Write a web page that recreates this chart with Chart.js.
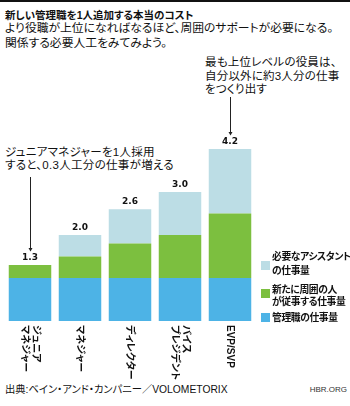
<!DOCTYPE html>
<html><head><meta charset="utf-8">
<script src="https://cdn.jsdelivr.net/npm/chart.js@4.4.1/dist/chart.umd.min.js"></script>
<style>
html,body{margin:0;padding:0;background:#fff;}
body{width:350px;height:406px;position:relative;overflow:hidden;
 font-family:"Liberation Sans","Noto Sans CJK JP",sans-serif;color:#111;font-feature-settings:"palt";}
.abs{position:absolute;white-space:pre;}
#topbar{position:absolute;left:0;top:0;width:350px;height:2px;background:#111;}
#title{left:5px;top:8px;font-size:10.5px;font-weight:bold;line-height:14px;}
#sub{left:5px;top:21px;font-size:11.8px;line-height:14.5px;}
#annJ{left:5px;top:146px;font-size:11.5px;line-height:13.3px;letter-spacing:0.3px;}
#annE{left:205px;top:56px;font-size:11.5px;line-height:13.6px;letter-spacing:0.2px;}
#src{left:5px;top:383px;font-size:10.3px;line-height:14px;}
#hbr{right:3px;top:385px;font-size:8px;line-height:10px;color:#333;}
.lg{position:absolute;left:272px;font-size:9.8px;font-weight:bold;white-space:pre;letter-spacing:-0.4px;}
.sw{position:absolute;left:261px;width:9px;height:9px;}
canvas{position:absolute;left:0;top:0;}
</style></head>
<body>
<div id="topbar"></div>
<div id="title" class="abs">新しい管理職を1人追加する本当のコスト</div>
<div id="sub" class="abs">より役職が上位になればなるほど、周囲のサポートが必要になる。
関係する必要人工をみてみよう。</div>
<div id="annJ" class="abs">ジュニアマネジャーを1人採用
すると、0.3人工分の仕事が増える</div>
<div id="annE" class="abs">最も上位レベルの役員は、
自分以外に約3人分の仕事
をつくり出す</div>
<div id="src" class="abs">出典:ベイン・アンド・カンパニー／VOLOMETORIX</div>
<div id="hbr" class="abs">HBR.ORG</div>
<canvas id="c" width="350" height="406"></canvas>
<div id="legend"></div>
<script>
// ---- data ----
const categories = [["ジュニア","マネジャー"],["マネジャー"],["ディレクター"],["バイス","プレジデント"],["EVP/SVP"]];
const managerWork   = [1.0, 1.0, 1.0, 1.0, 1.0];
const surroundWork  = [0.3, 0.5, 0.8, 1.0, 1.5];
const assistantWork = [0.0, 0.5, 0.8, 1.0, 1.5];
const totalLabels   = ["1.3","2.0","2.6","3.0","4.2"];
const seriesNames = ["管理職の仕事量","新たに周囲の人\nが従事する仕事量","必要なアシスタント\nの仕事量"];
const colors = ["#4db3e6","#7cbf3f","#bcdde5"];

// ---- legend (HTML) ----
const legendPos = [{t:311.5,lh:12,s:313},{t:284,lh:12,s:289},{t:249.5,lh:14.5,s:261}];
const lg = document.getElementById('legend');
seriesNames.forEach((n,i)=>{
  const d=document.createElement('div');d.className='lg';d.textContent=n;
  d.style.top=legendPos[i].t+'px';d.style.lineHeight=legendPos[i].lh+'px';lg.appendChild(d);
  const s=document.createElement('div');s.className='sw';s.style.background=colors[i];s.style.top=legendPos[i].s+'px';lg.appendChild(s);
});

const arrows = [{idx:0,startY:177},{idx:4,startY:97}];

const overlay = {
  id:'overlay',
  afterDatasetsDraw(chart){
    const ctx=chart.ctx, xs=chart.scales.x, ys=chart.scales.y;
    ctx.save();
    // totals
    ctx.font='bold 9px "DejaVu Sans"';
    ctx.fillStyle='#111';ctx.textAlign='center';ctx.textBaseline='alphabetic';
    const tops=[];
    categories.forEach((c,i)=>{
      const sum=managerWork[i]+surroundWork[i]+assistantWork[i];
      const x=xs.getPixelForValue(i), y=ys.getPixelForValue(sum)-5;
      ctx.fillText(totalLabels[i],x,y);
      tops.push(y-7);
    });
    // arrows
    ctx.strokeStyle='#222';ctx.lineWidth=1;ctx.fillStyle='#222';
    arrows.forEach(a=>{
      const x=Math.round(xs.getPixelForValue(a.idx))+0.5, y2=tops[a.idx]-2;
      ctx.beginPath();ctx.moveTo(x,a.startY);ctx.lineTo(x,y2-2);ctx.stroke();
      ctx.beginPath();ctx.moveTo(x-2,y2-3);ctx.lineTo(x+2,y2-3);ctx.lineTo(x,y2+0.5);ctx.closePath();ctx.fill();
    });
    // x labels rotated +90
    ctx.font='bold 10px "Liberation Sans","Noto Sans CJK JP"';
    ctx.fillStyle='#111';ctx.textAlign='left';ctx.textBaseline='middle';
    const lh=10.5;
    categories.forEach((lines,i)=>{
      const x=xs.getPixelForValue(i);
      ctx.save();ctx.translate(x,325);ctx.rotate(Math.PI/2);
      lines.forEach((t,j)=>{ctx.fillText(t,0,(j-(lines.length-1)/2)*lh);});
      ctx.restore();
    });
    ctx.restore();
  }
};

new Chart(document.getElementById('c'),{
  type:'bar',
  data:{labels:categories.map(c=>c.join('')),
    datasets:[
      {label:seriesNames[0],data:managerWork,backgroundColor:colors[0]},
      {label:seriesNames[1],data:surroundWork,backgroundColor:colors[1]},
      {label:seriesNames[2],data:assistantWork,backgroundColor:colors[2]}
    ]},
  options:{
    responsive:false,maintainAspectRatio:false,animation:false,devicePixelRatio:1,
    layout:{padding:{left:5,right:95,top:106,bottom:85}},
    datasets:{bar:{barPercentage:0.85,categoryPercentage:1.0,borderWidth:0}},
    scales:{
      x:{display:false,stacked:true},
      y:{display:false,stacked:true,min:0,max:5}
    },
    plugins:{legend:{display:false},tooltip:{enabled:false}}
  },
  plugins:[overlay]
});
</script>
</body></html>
